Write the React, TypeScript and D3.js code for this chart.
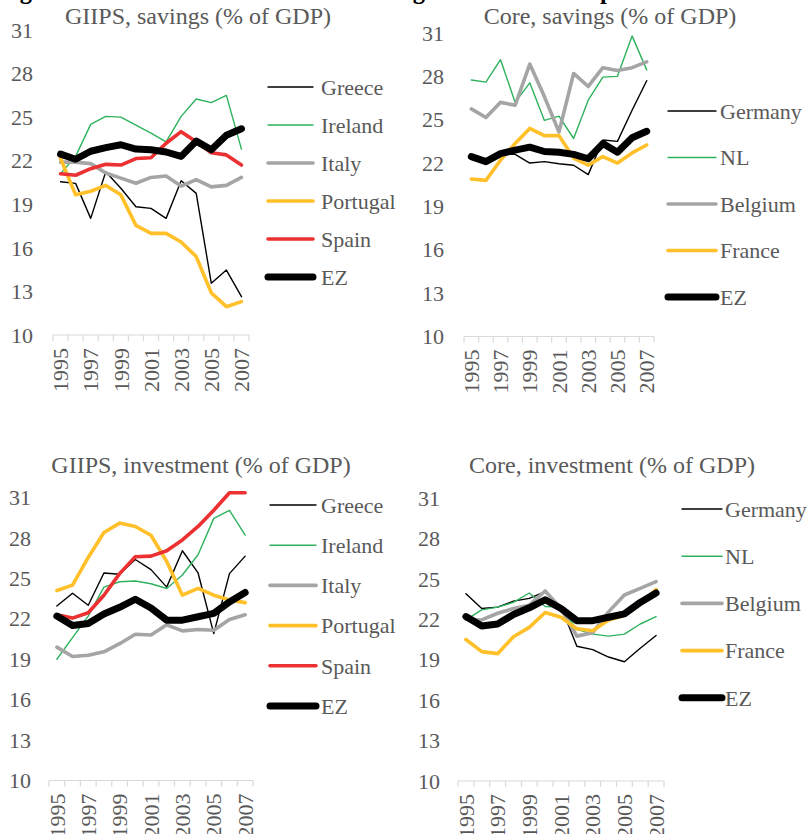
import React from 'react';
import * as d3 from 'd3';

const years = ['1995', '1996', '1997', '1998', '1999', '2000', '2001', '2002', '2003', '2004', '2005', '2006', '2007'];
const yTicks = [10, 13, 16, 19, 22, 25, 28, 31];

// GIIPS savings
const greeceS = [20.55, 20.44, 18.03, 21.24, 20.1, 18.83, 18.72, 18.03, 20.62, 19.75, 13.56, 14.47, 12.64];
const irelandS = [21.1, 22.3, 24.5, 25.05, 25.0, 24.45, 23.9, 23.3, 25.05, 26.25, 26.0, 26.5, 22.8];
const italyS = [21.9, 21.9, 21.8, 21.15, 20.8, 20.45, 20.85, 20.95, 20.25, 20.7, 20.2, 20.3, 20.85];
const portugalS = [22.15, 19.65, 19.9, 20.3, 19.65, 17.55, 17.0, 17.0, 16.4, 15.4, 12.9, 11.95, 12.3];
const spainS = [21.1, 21.0, 21.45, 21.75, 21.7, 22.15, 22.2, 23.2, 24.0, 23.3, 22.55, 22.4, 21.7];
const ezS = [22.45, 22.1, 22.65, 22.9, 23.1, 22.8, 22.75, 22.6, 22.3, 23.35, 22.75, 23.75, 24.2];

// Core savings
const germanyS = [22.4, 22.1, 22.6, 22.6, 22.0, 22.1, 21.95, 21.85, 21.2, 23.6, 23.5, 25.65, 27.7];
const nlS = [27.75, 27.6, 29.15, 26.2, 27.55, 24.95, 25.25, 23.7, 26.35, 27.95, 28.0, 30.8, 28.45];
const belgiumS = [25.75, 25.15, 26.2, 26.0, 28.85, 26.6, 24.15, 28.2, 27.3, 28.6, 28.4, 28.6, 29.0];
const franceS = [20.9, 20.8, 22.2, 23.35, 24.4, 23.9, 23.9, 22.35, 21.85, 22.45, 22.0, 22.7, 23.25];

// GIIPS investment
const greeceI = [22.95, 23.9, 23.0, 25.4, 25.3, 26.4, 25.65, 24.35, 27.05, 25.4, 20.9, 25.35, 26.65];
const irelandI = [19.0, 20.6, 22.2, 24.35, 24.75, 24.8, 24.6, 24.25, 25.25, 26.75, 29.45, 30.05, 28.2];
const italyI = [19.9, 19.2, 19.3, 19.55, 20.15, 20.85, 20.8, 21.55, 21.1, 21.2, 21.15, 21.95, 22.3];
const portugalI = [24.1, 24.5, 26.55, 28.4, 29.1, 28.85, 28.2, 26.25, 23.75, 24.25, 23.75, 23.4, 23.2];
const spainI = [22.3, 22.05, 22.45, 23.75, 25.35, 26.6, 26.65, 27.05, 27.85, 28.85, 30.05, 31.35, 31.35];
const ezI = [22.2, 21.5, 21.65, 22.35, 22.85, 23.45, 22.8, 21.9, 21.9, 22.15, 22.4, 23.25, 23.95];

// Core investment
const germanyI = [23.9, 22.8, 22.9, 23.35, 23.55, 24.05, 22.95, 20.0, 19.75, 19.2, 18.85, 19.85, 20.8];
const nlI = [21.95, 22.7, 22.9, 23.25, 23.95, 22.95, 22.9, 21.25, 20.9, 20.75, 20.9, 21.65, 22.2];
const belgiumI = [22.0, 21.95, 22.45, 22.8, 23.05, 24.1, 22.8, 20.75, 21.0, 22.55, 23.8, 24.3, 24.8];
const franceI = [20.5, 19.6, 19.45, 20.7, 21.4, 22.5, 22.15, 21.3, 21.15, 21.95, 22.3, 23.1, 24.2];

const FONT = '"Liberation Serif", "Times New Roman", serif';
const TXT = '#595959';

const styles: Record<string, { color: string; width: number }> = {
  Greece: { color: '#000000', width: 1.4 },
  Ireland: { color: '#2eb25d', width: 1.4 },
  Italy: { color: '#a5a5a5', width: 3.6 },
  Portugal: { color: '#ffc02a', width: 3.6 },
  Spain: { color: '#eb3131', width: 3.6 },
  Germany: { color: '#000000', width: 1.4 },
  NL: { color: '#2eb25d', width: 1.4 },
  Belgium: { color: '#a5a5a5', width: 3.6 },
  France: { color: '#ffc02a', width: 3.6 },
  EZ: { color: '#000000', width: 7 },
};

interface PanelProps {
  title: string;
  titleX: number;
  titleY: number;
  x0: number;
  x1: number;
  yTop: number;
  yBot: number;
  labelRight: number;
  series: { name: string; values: number[] }[];
  legX0: number;
  legX1: number;
  legText: number;
  legY: number;
  legStep: number;
}

const Panel: React.FC<PanelProps> = (p) => {
  const x = d3.scaleBand<string>().domain(years).range([p.x0, p.x1]);
  const y = d3.scaleLinear().domain([10, 31]).range([p.yBot, p.yTop]);
  const line = d3.line<number>()
    .x((d, i) => (x(years[i]) as number) + x.bandwidth() / 2)
    .y(d => y(d));
  const bounds = years.map(yr => x(yr) as number).concat([p.x1]);

  return (
    <g>
      <text x={p.titleX} y={p.titleY} textAnchor="middle" fontSize={24} fill={TXT} fontFamily={FONT}>{p.title}</text>
      {yTicks.map(t => (
        <text key={t} x={p.labelRight} y={y(t)} dy="0.35em" textAnchor="end" fontSize={22} fill={TXT} fontFamily={FONT}>{t}</text>
      ))}
      <line x1={p.x0} x2={p.x1} y1={p.yBot} y2={p.yBot} stroke="#d9d9d9" strokeWidth={1.2} />
      {bounds.map((b, i) => (
        <line key={i} x1={b} x2={b} y1={p.yBot} y2={p.yBot + 6} stroke="#d9d9d9" strokeWidth={1.2} />
      ))}
      {years.map((yr, i) => i % 2 === 0 ? (
        <text key={yr} transform={`translate(${(x(yr) as number) + x.bandwidth() / 2},${p.yBot + 13}) rotate(-90)`}
          dy="0.35em" textAnchor="end" fontSize={22} fill={TXT} fontFamily={FONT}>{yr}</text>
      ) : null)}
      {p.series.map(s => (
        <path key={s.name} d={line(s.values) || ''} fill="none" stroke={styles[s.name].color}
          strokeWidth={styles[s.name].width} strokeLinejoin="round" strokeLinecap="round" />
      ))}
      {p.series.map((s, i) => {
        const ly = p.legY + i * p.legStep;
        return (
          <g key={s.name}>
            <line x1={p.legX0} x2={p.legX1} y1={ly} y2={ly} stroke={styles[s.name].color}
              strokeWidth={styles[s.name].width} strokeLinecap="round" />
            <text x={p.legText} y={ly} dy="0.35em" fontSize={22} fill={TXT} fontFamily={FONT}>{s.name}</text>
          </g>
        );
      })}
    </g>
  );
};

export default function App() {
  return (
    <div style={{ position: 'absolute', left: 0, top: 0 }}>
      <svg width={809} height={834} style={{ display: 'block', background: '#fff' }}>
        <text x={-2} y={-1.5} fontSize={24.5} fontWeight="bold" fill="#000" fontFamily={FONT}>
          Figure 4. Investment and national savings in the core compared to GIIPS
        </text>
        <Panel title="GIIPS, savings (% of GDP)" titleX={198} titleY={24}
          x0={53} x1={249} yTop={30} yBot={335} labelRight={33}
          series={[
            { name: 'Greece', values: greeceS },
            { name: 'Ireland', values: irelandS },
            { name: 'Italy', values: italyS },
            { name: 'Portugal', values: portugalS },
            { name: 'Spain', values: spainS },
            { name: 'EZ', values: ezS },
          ]}
          legX0={268} legX1={313} legText={321} legY={87} legStep={38} />
        <Panel title="Core, savings (% of GDP)" titleX={610} titleY={24}
          x0={464} x1={654} yTop={33} yBot={336.5} labelRight={444}
          series={[
            { name: 'Germany', values: germanyS },
            { name: 'NL', values: nlS },
            { name: 'Belgium', values: belgiumS },
            { name: 'France', values: franceS },
            { name: 'EZ', values: ezS },
          ]}
          legX0={668} legX1={716} legText={720} legY={111} legStep={46.5} />
        <Panel title="GIIPS, investment (% of GDP)" titleX={201} titleY={473}
          x0={49} x1={253} yTop={497.5} yBot={780.5} labelRight={31}
          series={[
            { name: 'Greece', values: greeceI },
            { name: 'Ireland', values: irelandI },
            { name: 'Italy', values: italyI },
            { name: 'Portugal', values: portugalI },
            { name: 'Spain', values: spainI },
            { name: 'EZ', values: ezI },
          ]}
          legX0={270} legX1={316} legText={321} legY={505} legStep={40.2} />
        <Panel title="Core, investment (% of GDP)" titleX={612} titleY={473}
          x0={458} x1={664} yTop={498} yBot={781} labelRight={440}
          series={[
            { name: 'Germany', values: germanyI },
            { name: 'NL', values: nlI },
            { name: 'Belgium', values: belgiumI },
            { name: 'France', values: franceI },
            { name: 'EZ', values: ezI },
          ]}
          legX0={682} legX1={722} legText={725} legY={509} legStep={47.2} />
      </svg>
    </div>
  );
}
